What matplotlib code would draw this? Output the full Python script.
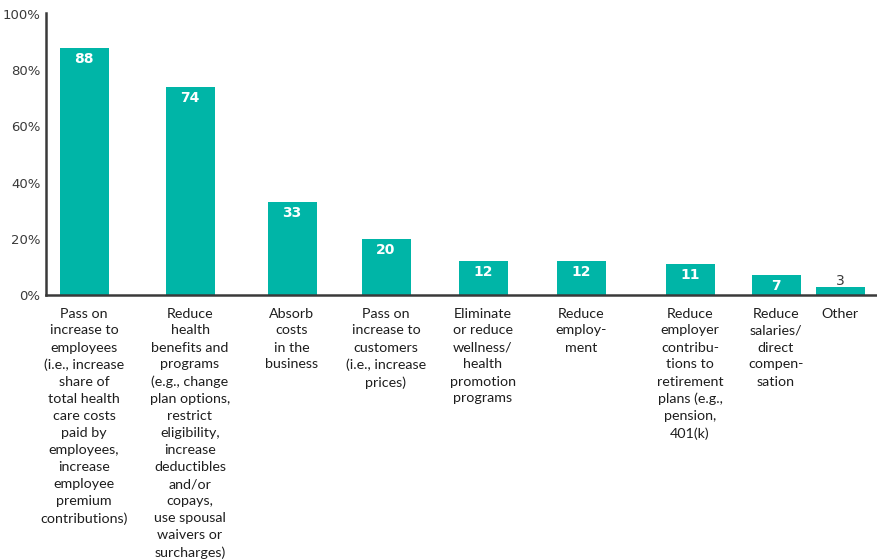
import matplotlib
matplotlib.use("Agg")
import matplotlib.pyplot as plt

categories = [
    "Pass on\nincrease to\nemployees\n(i.e., increase\nshare of\ntotal health\ncare costs\npaid by\nemployees,\nincrease\nemployee\npremium\ncontributions)",
    "Reduce\nhealth\nbenefits and\nprograms\n(e.g., change\nplan options,\nrestrict\neligibility,\nincrease\ndeductibles\nand/or\ncopays,\nuse spousal\nwaivers or\nsurcharges)",
    "Absorb\ncosts\nin the\nbusiness",
    "Pass on\nincrease to\ncustomers\n(i.e., increase\nprices)",
    "Eliminate\nor reduce\nwellness/\nhealth\npromotion\nprograms",
    "Reduce\nemploy-\nment",
    "Reduce\nemployer\ncontribu-\ntions to\nretirement\nplans (e.g.,\npension,\n401(k)",
    "Reduce\nsalaries/\ndirect\ncompen-\nsation",
    "Other",
]
values = [88, 74, 33, 20, 12, 12, 11, 7, 3]
ytick_values = [0, 20, 40, 60, 80, 100]
ytick_labels = ["0%", "20%", "40%", "60%", "80%", "100%"]

# layout (horizontal centres of bars, in pixel-like units)
positions = [84, 190, 292, 386, 483, 581, 690, 776, 840]

TEAL = "#00B5A7"
DARK = "#3a3a3a"
FONT = "Lato"

fig = plt.figure(figsize=(8.77, 5.59), dpi=100)
W, H = 877, 559
left, right = 46, 877
bottom_px, top_px = 295, 13
ax = fig.add_axes([left / W, (H - bottom_px) / H, (right - left) / W, (bottom_px - top_px) / H])

ax.bar(positions, values, width=49, color=TEAL, zorder=2)
ax.set_xlim(left, right)
ax.set_ylim(0, 100 * (bottom_px - top_px) / 281)

for s in ["top", "right"]:
    ax.spines[s].set_visible(False)
for s in ["left", "bottom"]:
    ax.spines[s].set_color(DARK)
    ax.spines[s].set_linewidth(1.8)
    ax.spines[s].set_zorder(3)

ax.set_yticks(ytick_values)
ax.set_yticklabels(ytick_labels, fontfamily="Liberation Sans Narrow", fontsize=9.5, color=DARK)
ax.tick_params(axis="y", length=0, pad=4)
ax.set_xticks(positions)
ax.set_xticklabels(categories, fontfamily=FONT, fontsize=10.3, color="#1e1e1e", linespacing=1.5, va="top")
ax.tick_params(axis="x", length=0, pad=9)

for x, v in zip(positions, values):
    if v >= 5:
        ax.annotate(str(v), (x, v), xytext=(0, -3), textcoords="offset points",
                    ha="center", va="top", color="white", fontweight="bold",
                    fontsize=10, fontfamily="Liberation Sans Narrow")
    else:
        ax.annotate(str(v), (x, v), xytext=(0, -1), textcoords="offset points",
                    ha="center", va="bottom", color=DARK,
                    fontsize=10, fontfamily="Liberation Sans Narrow")

fig.savefig("out.png", dpi=100)
